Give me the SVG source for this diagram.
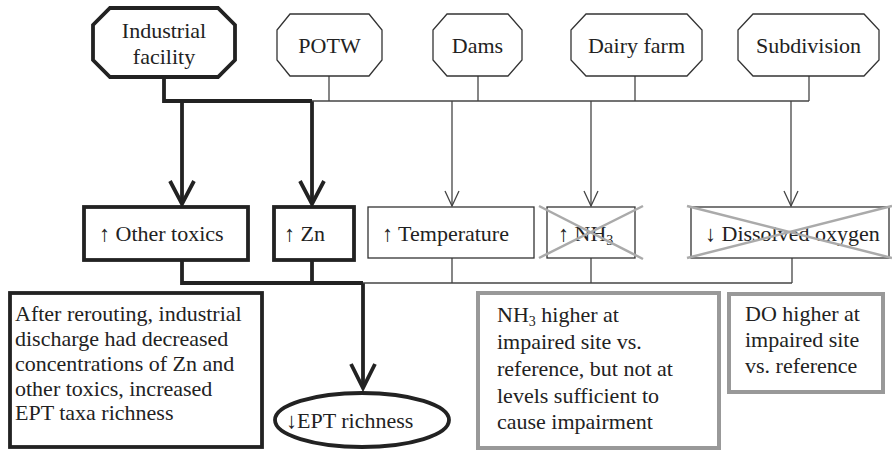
<svg xmlns="http://www.w3.org/2000/svg" width="892" height="452" viewBox="0 0 892 452">
<style>
text{font-family:"Liberation Serif","Times New Roman",serif;font-size:22px;fill:#222}
.sub{font-size:14px}
.thick{fill:#fff;stroke:#222;stroke-width:3.8}
.thin{fill:#fff;stroke:#333;stroke-width:1.3}
.gray{fill:#fff;stroke:#999;stroke-width:4}
.cx{stroke:#aaa;stroke-width:2.5;fill:none}
.ct{stroke:#222;stroke-width:3.8;fill:none}
.cn{stroke:#444;stroke-width:1.3;fill:none}
</style>
<g id="connectors">
<polyline class="ct" points="164,77 164,101 312,101"/>
<line class="ct" x1="182" y1="101" x2="182" y2="204"/>
<line class="ct" x1="312" y1="101" x2="312" y2="204"/>
<polyline class="ct" points="170,181 182,204 194,181"/>
<polyline class="ct" points="300,181 312,204 324,181"/>
<line class="cn" x1="312" y1="101" x2="809" y2="101"/>
<line class="cn" x1="329" y1="76" x2="329" y2="101"/>
<line class="cn" x1="478" y1="76" x2="478" y2="101"/>
<line class="cn" x1="635" y1="76" x2="635" y2="101"/>
<line class="cn" x1="809" y1="76" x2="809" y2="101"/>
<line class="cn" x1="452" y1="101" x2="452" y2="206"/>
<line class="cn" x1="591" y1="101" x2="591" y2="206"/>
<line class="cn" x1="791" y1="101" x2="791" y2="206"/>
<polyline class="cn" points="445,191 452,206 459,191"/>
<polyline class="cn" points="584,191 591,206 598,191"/>
<polyline class="cn" points="784,191 791,206 798,191"/>
<polyline class="ct" points="182,260 182,283 363,283"/>
<line class="ct" x1="312" y1="260" x2="312" y2="283"/>
<line class="ct" x1="363" y1="283" x2="363" y2="388"/>
<polyline class="ct" points="351,364 363,388 375,364"/>
<line class="cn" x1="363" y1="283" x2="792" y2="283"/>
<line class="cn" x1="452" y1="258" x2="452" y2="283"/>
<line class="cn" x1="591" y1="258" x2="591" y2="283"/>
<line class="cn" x1="792" y1="258" x2="792" y2="283"/>
</g>
<g id="industrial">
<polygon class="thick" points="110,8 218,8 235,25 235,60 218,77 110,77 93,60 93,25"/>
<text x="164" y="38" text-anchor="middle">Industrial</text>
<text x="164" y="64" text-anchor="middle">facility</text>
</g>
<g id="potw">
<polygon class="thin" points="290,14 369,14 382,30 382,60 369,76 290,76 277,60 277,30"/>
<text x="329.5" y="53" text-anchor="middle">POTW</text>
</g>
<g id="dams">
<polygon class="thin" points="447,14 508,14 522,30 522,60 508,76 447,76 433,60 433,30"/>
<text x="477.5" y="53" text-anchor="middle">Dams</text>
</g>
<g id="dairy">
<polygon class="thin" points="586,14 687,14 702,30 702,60 687,76 586,76 571,60 571,30"/>
<text x="636.5" y="53" text-anchor="middle">Dairy farm</text>
</g>
<g id="subdivision">
<polygon class="thin" points="753,14 864,14 879,30 879,60 864,76 753,76 738,60 738,30"/>
<text x="808.5" y="53" text-anchor="middle">Subdivision</text>
</g>
<g id="othertoxics">
<rect class="thick" x="84" y="207" width="164" height="53"/>
<text x="99" y="241">↑ Other toxics</text>
</g>
<g id="zn">
<rect class="thick" x="274" y="207" width="80" height="53"/>
<text x="284" y="241">↑ Zn</text>
</g>
<g id="temperature">
<rect class="thin" x="368" y="207" width="166" height="51"/>
<text x="382" y="241">↑ Temperature</text>
</g>
<g id="nh3">
<rect class="thin" x="547" y="207" width="88" height="51"/>
<text x="558" y="241">↑ NH<tspan class="sub" dy="4">3</tspan></text>
<line class="cx" x1="539" y1="206" x2="643" y2="259"/>
<line class="cx" x1="539" y1="258" x2="643" y2="206"/>
</g>
<g id="do">
<rect class="thin" x="691" y="207" width="198" height="51"/>
<text x="705" y="241">↓ Dissolved oxygen</text>
<line class="cx" x1="687" y1="206" x2="892" y2="258"/>
<line class="cx" x1="687" y1="258" x2="892" y2="206"/>
</g>
<g id="ept">
<ellipse cx="362" cy="420" rx="87" ry="27" fill="#fff" stroke="#222" stroke-width="3.8"/>
<text x="286" y="428">↓EPT richness</text>
</g>
<g id="note-industrial">
<rect class="thick" x="10" y="293" width="252" height="154"/>
<text x="15" y="321">After rerouting, industrial</text>
<text x="15" y="346">discharge had decreased</text>
<text x="15" y="371">concentrations of Zn and</text>
<text x="15" y="396">other toxics, increased</text>
<text x="15" y="420">EPT taxa richness</text>
</g>
<g id="note-nh3">
<rect class="gray" x="478" y="293" width="241" height="155"/>
<text x="497" y="322">NH<tspan class="sub" dy="4">3</tspan><tspan dy="-4"> higher at</tspan></text>
<text x="497" y="349">impaired site vs.</text>
<text x="497" y="376">reference, but not at</text>
<text x="497" y="403">levels sufficient to</text>
<text x="497" y="429">cause impairment</text>
</g>
<g id="note-do">
<rect class="gray" x="729" y="294" width="154" height="98"/>
<text x="745" y="321">DO higher at</text>
<text x="745" y="347">impaired site</text>
<text x="745" y="373">vs. reference</text>
</g>
</svg>
